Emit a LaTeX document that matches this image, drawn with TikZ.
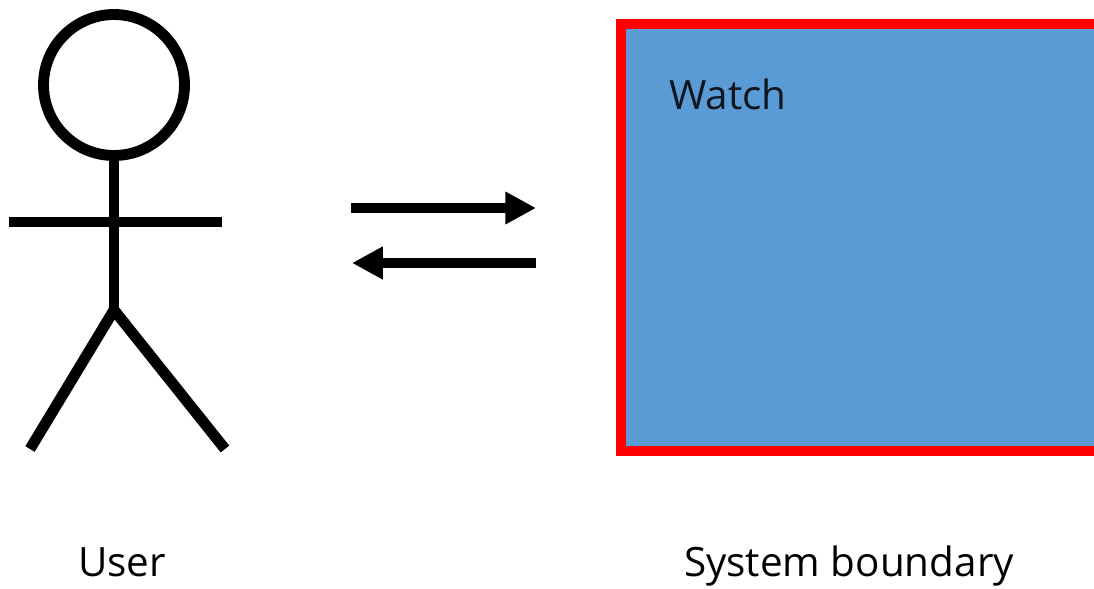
\documentclass[tikz,border=0pt]{standalone}
\usepackage{fontspec}
\setmainfont{Open Sans}
\usetikzlibrary{arrows.meta}
\definecolor{watchblue}{HTML}{5B9BD5}
\tikzset{
	stick/.style={draw,line width=6.2pt},
	flow/.style={draw,line width=6.2pt,-{Triangle[length=17.5pt,width=17.5pt]}},
	label/.style={inner sep=0pt,font=\fontsize{23}{28}\selectfont}
}
\begin{document}
\begin{tikzpicture}[x=0.02cm,y=-0.02cm]
\useasboundingbox (0,0) rectangle (1094,588);
\clip (0,0) rectangle (1094,588);
% stick figure
\node[circle,stick,minimum size=141*0.02cm,inner sep=0pt,outer sep=0pt] (head) at (114,85) {};
\coordinate (hip) at (114,310);
\coordinate (arml) at (9,222);
\coordinate (armr) at (222,222);
\coordinate (footl) at (30,449);
\coordinate (footr) at (225,449);
\draw[stick] (head.south) -- (hip);
\draw[stick] (arml) -- (armr);
\draw[stick,line join=miter] (footl) -- (hip) -- (footr);
\node[label,anchor=base] (user) at (122,576) {User};
% arrows
\coordinate (outa) at (351,208);
\coordinate (outb) at (536,208);
\coordinate (inb) at (352,263);
\coordinate (ina) at (536,263);
\draw[flow] (outa) -- (outb);
\draw[flow] (ina) -- (inb);
% system
\node[draw=red,fill=watchblue,line width=5.7pt,minimum width=520*0.02cm,minimum height=427*0.02cm,anchor=north west,outer sep=0pt] (watch) at (621,24) {};
\node[label,anchor=base west,text=black!85!watchblue] (watchtext) at (669,110) {Watch};
\node[label,anchor=base] (boundary) at (849,576) {System boundary};
\end{tikzpicture}
\end{document}
